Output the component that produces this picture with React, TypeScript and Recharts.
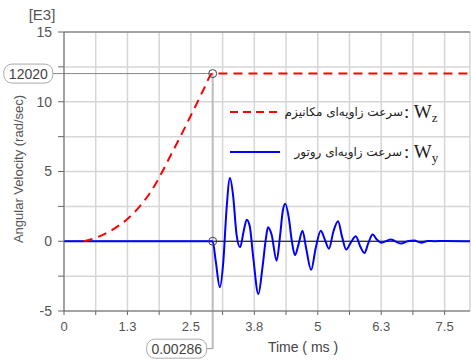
import {
  CartesianGrid,
  Line,
  LineChart,
  ReferenceDot,
  ReferenceLine,
  XAxis,
  YAxis,
} from 'recharts';

// time in ms, values in E3 rad/sec
const mechTime = [0.39, 0.63, 0.99, 1.25, 1.48, 1.71, 1.91, 2.1, 2.3, 2.47, 2.6, 2.76, 2.93, 8.0];
const mechValue = [0, 0.25, 0.9, 1.6, 2.45, 3.55, 4.8, 6.15, 7.55, 8.8, 9.75, 10.95, 12.02, 12.02];

const rotorTime = [
  0, 2.93, 2.99, 3.07, 3.14, 3.2, 3.27, 3.33, 3.4, 3.47, 3.54, 3.6, 3.66, 3.73, 3.83, 3.91, 3.98,
  4.02, 4.09, 4.19, 4.26, 4.31, 4.36, 4.43, 4.49, 4.55, 4.62, 4.7, 4.77, 4.87, 4.96, 5.06, 5.14,
  5.22, 5.31, 5.4, 5.48, 5.56, 5.65, 5.75, 5.84, 5.92, 6.0, 6.08, 6.17, 6.25, 6.44, 6.64, 6.77,
  6.9, 7.04, 7.17, 7.3, 7.5, 8.0,
];
const rotorValue = [
  0, 0, -1.43, -3.3, -1.43, 2.15, 4.54, 3.35, 0.48, -0.43, 0.72, 1.55, 1.08, -1.2, -3.78, -1.9, 0.24,
  1.0, 0.48, -1.39, 0.48, 2.15, 2.68, 1.67, 0, -1.0, -0.24, 0.76, -0.48, -2.05, -0.48, 0.76, 0.12,
  -0.53, 0.72, 1.43, 0.3, -0.6, -0.1, 0.36, -0.4, -0.84, -0.1, 0.48, 0.1, -0.1, 0.12, -0.17, 0,
  0.05, -0.1, 0.02, 0, 0.02, 0,
];

const xTicks = [0, 0.625, 1.25, 1.875, 2.5, 3.125, 3.75, 4.375, 5, 5.625, 6.25, 6.875, 7.5];
const xTickLabels = ['0', '', '1.3', '', '2.5', '', '3.8', '', '5', '', '6.3', '', '7.5'];
const yTicks = [-5, -2.5, 0, 2.5, 5, 7.5, 10, 12.5, 15];
const yTickLabels = ['-5', '', '0', '', '5', '', '10', '', '15'];

const switchTime = 2.93;
const switchLabel = '0.00286';
const peakValue = 12.02;
const peakLabel = '12020';

const mechData = mechTime.map((t, i) => ({ t, v: mechValue[i] }));
const rotorData = rotorTime.map((t, i) => ({ t, v: rotorValue[i] }));

const sans = '"Liberation Sans", Arial, sans-serif';
const serif = '"Liberation Serif", "Times New Roman", serif';
const farsi = '"DejaVu Sans", sans-serif';

function ValueBox({ cx, cy, text, side }: { cx?: number; cy?: number; text: string; side: 'left' | 'below' }) {
  if (cx == null || cy == null) return null;
  const w = side === 'left' ? 49 : 60;
  const h = 19;
  const x = cx - w - (side === 'below' ? 6 : 0);
  return (
    <g>
      {side === 'below' && <line x1={cx - 6} y1={cy} x2={cx} y2={cy} stroke="#999" strokeWidth={1} />}
      <rect x={x} y={cy - h / 2} width={w} height={h} rx={8} fill="#fff" stroke="#aaa" strokeWidth={1} />
      <text x={x + w / 2} y={cy + 5} textAnchor="middle" fontSize={14} fontFamily={sans} fill="#444">
        {text}
      </text>
    </g>
  );
}

function Marker({ cx, cy }: { cx?: number; cy?: number }) {
  if (cx == null || cy == null) return null;
  return <circle cx={cx} cy={cy} r={4} fill="none" stroke="#444" strokeWidth={1} />;
}

export default function App() {
  return (
    <div style={{ position: 'absolute', left: 0, top: 0, width: 471, height: 360, background: '#fff' }}>
      <LineChart width={471} height={360} margin={{ top: 32, right: 1, bottom: 19, left: 0 }}>
        <CartesianGrid stroke="#d6d6d6" strokeWidth={1.5} />
        <XAxis
          type="number"
          dataKey="t"
          domain={[0, 8]}
          ticks={xTicks}
          interval={0}
          allowDataOverflow
          height={30}
          tickSize={4}
          tickMargin={7}
          stroke="#666"
          tick={{ fill: '#555', fontSize: 13, fontFamily: sans }}
          tickFormatter={(v: number) => xTickLabels[xTicks.indexOf(v)] ?? ''}
        />
        <YAxis
          type="number"
          dataKey="v"
          domain={[-5, 15]}
          ticks={yTicks}
          interval={0}
          width={64}
          tickSize={6}
          tickMargin={6}
          stroke="#666"
          tick={{ fill: '#555', fontSize: 14, fontFamily: sans }}
          tickFormatter={(v: number) => yTickLabels[yTicks.indexOf(v)] ?? ''}
        />
        <ReferenceLine y={15} stroke="#666" strokeWidth={1} />
        <ReferenceLine y={0} stroke="#000" strokeWidth={1} />
        <ReferenceLine
          segment={[{ x: switchTime, y: -7.7 }, { x: switchTime, y: peakValue }]}
          stroke="#bbb"
          strokeWidth={2}
          ifOverflow="visible"
        />
        <ReferenceLine
          segment={[{ x: -0.22, y: peakValue }, { x: switchTime, y: peakValue }]}
          stroke="#888"
          strokeWidth={1}
          ifOverflow="visible"
        />
        <Line
          data={rotorData}
          dataKey="v"
          type="monotone"
          stroke="#0000ff"
          strokeWidth={2}
          dot={false}
          isAnimationActive={false}
        />
        <Line
          data={mechData}
          dataKey="v"
          type="monotone"
          stroke="#ff0000"
          strokeWidth={2}
          strokeDasharray="9 6"
          dot={false}
          isAnimationActive={false}
        />
        <ReferenceDot x={switchTime} y={peakValue} ifOverflow="visible" shape={(p: any) => <Marker cx={p.cx} cy={p.cy} />} />
        <ReferenceDot x={switchTime} y={0} ifOverflow="visible" shape={(p: any) => <Marker cx={p.cx} cy={p.cy} />} />
        <ReferenceDot
          x={-0.22}
          y={peakValue}
          ifOverflow="visible"
          shape={(p: any) => <ValueBox cx={p.cx} cy={p.cy} text={peakLabel} side="left" />}
        />
        <ReferenceDot
          x={switchTime}
          y={-7.7}
          ifOverflow="visible"
          shape={(p: any) => <ValueBox cx={p.cx} cy={p.cy} text={switchLabel} side="below" />}
        />
      </LineChart>
      <svg width={471} height={360} style={{ position: 'absolute', left: 0, top: 0, pointerEvents: 'none' }}>
        <text x={42} y={20} textAnchor="middle" fontSize={15} fontFamily={sans} fill="#555">
          [E3]
        </text>
        <text
          x={18}
          y={169}
          transform="rotate(-90 18 169)"
          textAnchor="middle"
          dominantBaseline="central"
          fontSize={13}
          fontFamily={sans}
          fill="#555"
        >
          Angular Velocity (rad/sec)
        </text>
        <text x={303} y={352} textAnchor="middle" fontSize={14} fontFamily={sans} fill="#444">
          Time ( ms )
        </text>
        <line x1={230} y1={112} x2={280} y2={112} stroke="#ff0000" strokeWidth={2} strokeDasharray="8 5" />
        <text x={403} y={116} textAnchor="end" fontSize={12} fontFamily={farsi} fill="#222">
          سرعت زاویه‌ای مکانیزم
        </text>
        <text x={404} y={118} fontSize={19} fontFamily={serif} fill="#222">
          : W<tspan fontSize={13} dy={4}>z</tspan>
        </text>
        <line x1={230} y1={152} x2={280} y2={152} stroke="#0000ff" strokeWidth={2} />
        <text x={402} y={156} textAnchor="end" fontSize={12} fontFamily={farsi} fill="#222">
          سرعت زاویه‌ای روتور
        </text>
        <text x={404} y={158} fontSize={19} fontFamily={serif} fill="#222">
          : W<tspan fontSize={13} dy={4}>y</tspan>
        </text>
      </svg>
    </div>
  );
}
